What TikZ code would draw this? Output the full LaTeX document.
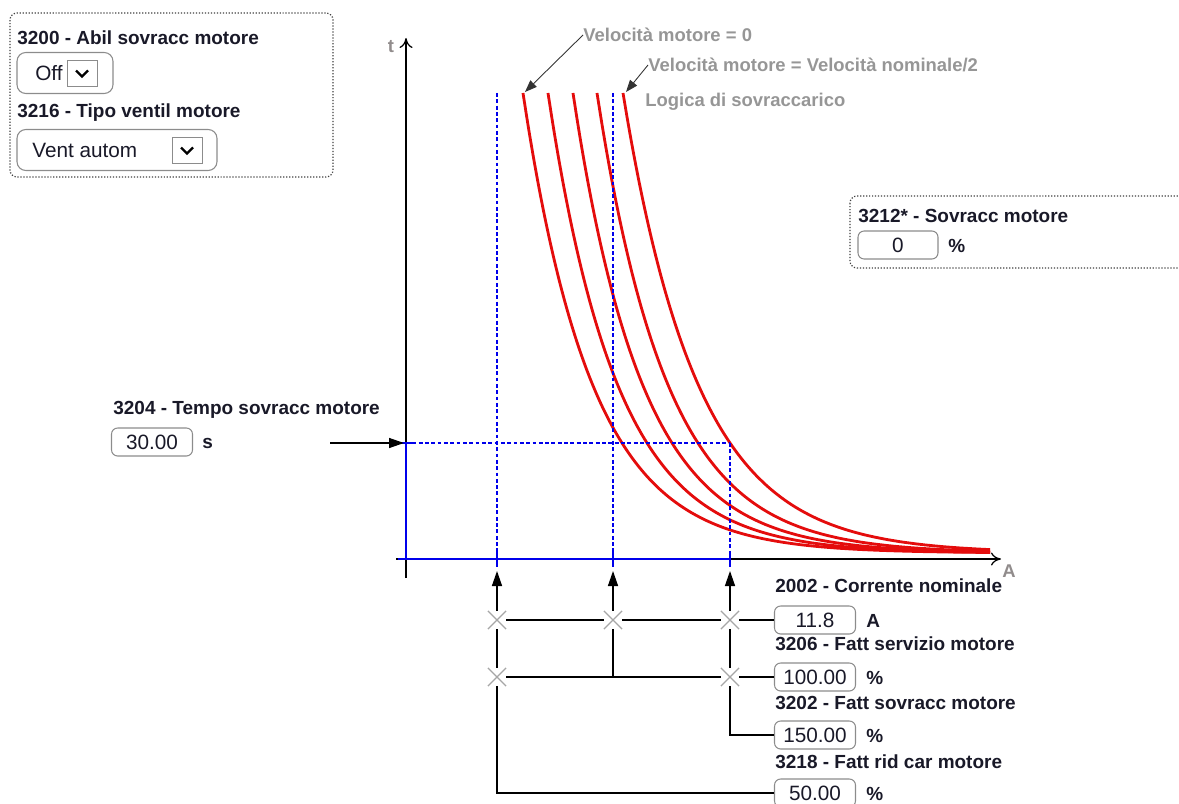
\documentclass[tikz,border=0pt]{standalone}
\usepackage{fontspec}
\setmainfont{Liberation Sans}
\usepackage{tikz}
\usetikzlibrary{arrows.meta, shapes.misc}
\definecolor{labelgray}{RGB}{150,150,150}
\definecolor{axisgray}{RGB}{145,140,140}
\definecolor{guideblue}{RGB}{0,0,235}
\definecolor{curvered}{RGB}{228,12,12}
\definecolor{boxgray}{RGB}{140,140,140}
\definecolor{inktext}{RGB}{25,25,40}

\begin{document}
\begin{tikzpicture}[
    x=0.02cm, y=-0.02cm,
    every node/.style={font=\fontsize{10.8}{13}\selectfont},
    lbl/.style={anchor=west, inner sep=0pt, font=\bfseries\fontsize{10.8}{13}\selectfont, text=inktext},
    unit/.style={anchor=west, inner sep=0pt, font=\bfseries\fontsize{10.8}{13}\selectfont, text=inktext},
    valbox/.style={draw=boxgray, rounded corners=3.5pt, line width=0.6pt, minimum width=1.62cm, minimum height=0.56cm, inner sep=0pt, font=\fontsize{11.8}{13}\selectfont, text=inktext},
    selbox/.style={draw=boxgray, rounded corners=5pt, line width=0.6pt, minimum height=0.82cm, inner sep=0pt},
    ddbox/.style={draw=boxgray, line width=0.5pt, minimum width=0.6cm, minimum height=0.52cm, inner sep=0pt},
    chevron/.style={black, line width=1.3pt},
    grouping/.style={draw=black!75, densely dotted, rounded corners=4pt, line width=0.7pt},
    note/.style={anchor=west, inner sep=0pt, font=\bfseries\fontsize{10.5}{13}\selectfont, text=labelgray},
    curve/.style={curvered, line width=1.6pt},
    guide/.style={guideblue, dash pattern=on 2.2pt off 1.4pt, line width=1.1pt},
    baseline/.style={guideblue, line width=1.1pt},
    axis/.style={black, line width=0.7pt, -{To[length=2mm,width=2.6mm]}},
    xmark/.style={cross out, draw=gray!70, minimum size=0.34cm, inner sep=0pt, line width=0.7pt},
    feed/.style={black, line width=0.8pt},
    push/.style={feed, -{Triangle[length=3mm,width=2mm]}},
    pointer/.style={black!80, line width=0.5pt, -{Triangle[length=2.4mm,width=1.8mm]}}
]
\useasboundingbox (0,0) rectangle (1179,804);

% Settings top left
\draw[grouping] (10,13) rectangle (333,177);
\node[lbl] (t3200) at (17,38) {3200 - Abil sovracc motore};
\node[selbox, minimum width=1.92cm] (offbox) at (65,73) {};
\node[anchor=west, inner sep=0pt, font=\fontsize{11.8}{13}\selectfont, text=inktext] (offtxt) at (35,73) {Off};
\node[ddbox] (dd1) at (82,73) {};
\draw[chevron] ([xshift=-0.12cm,yshift=0.05cm]dd1.center) -- ([yshift=-0.07cm]dd1.center) -- ([xshift=0.12cm,yshift=0.05cm]dd1.center);
\node[lbl] (t3216) at (17,113) {3216 - Tipo ventil motore};
\node[selbox, minimum width=4cm] (ventbox) at (117,150) {};
\node[anchor=west, inner sep=0pt, font=\fontsize{11.8}{13}\selectfont, text=inktext] (venttxt) at (32,150) {Vent autom};
\node[ddbox] (dd2) at (187,150) {};
\draw[chevron] ([xshift=-0.12cm,yshift=0.05cm]dd2.center) -- ([yshift=-0.07cm]dd2.center) -- ([xshift=0.12cm,yshift=0.05cm]dd2.center);

% Overload readout
\draw[grouping] (850,196) rectangle (1195,268);
\node[lbl] (t3212) at (858,216) {3212* - Sovracc motore};
\node[valbox, minimum width=1.6cm] (v0) at (898,245) {0};
\node[unit] (u0) at (948,246) {\%};

% Overload time
\node[lbl] (t3204) at (113,410) {3204 - Tempo sovracc motore};
\node[valbox] (v30) at (152,442) {30.00};
\node[unit] (u30) at (202,443) {s};

% Axes
\coordinate (tbot) at (406,578);
\coordinate (ttop) at (406,38);
\coordinate (xbeg) at (396,559);
\coordinate (xend) at (1001,559);
\draw[axis] (tbot) -- (ttop);
\draw[axis] (xbeg) -- (xend);
\node[text=axisgray, font=\bfseries\fontsize{10.5}{13}\selectfont] (tlab) at (391,47) {t};
\node[text=axisgray, font=\bfseries\fontsize{10.5}{13}\selectfont] (alab) at (1009,571) {A};

% Tripping curves
\foreach \xs/\kk in {523/0.01445, 548/0.01445, 573/0.01445, 597/0.01417, 623/0.01337}
  \draw[curve] plot[domain=\xs:990, samples=90, smooth] (\x, {553 - 460*exp(-\kk*(\x-\xs))});

% Guides
\coordinate (o1) at (406,443);
\coordinate (g1) at (497,93);
\coordinate (g2) at (613,93);
\coordinate (g3) at (730,443);
\coordinate (a1) at (497,571);
\coordinate (a2) at (613,571);
\coordinate (a3) at (730,571);
\draw[guide] (g1) -- (497,559);
\draw[guide] (g2) -- (613,559);
\draw[guide] (g3) -- (730,559);
\draw[guide] (o1) -- (g3);
\draw[baseline] (o1) -- (406,559);
\draw[baseline] (398,559) -- (730,559);
\draw[baseline] (398,443) -- (414,443);
\foreach \gx in {497,613,730}
  \draw[baseline] (\gx,551) -- (\gx,567);
\coordinate (tin) at (330,443);
\draw[push] (tin) -- (404,443);

% Notes
\node[note] (n1) at (583,35) {Velocità motore = 0};
\node[note] (n2) at (648,65) {Velocità motore = Velocità nominale/2};
\node[note] (n3) at (645,102) {Logica di sovraccarico};
\coordinate (r1) at (525,92);
\coordinate (r5) at (626,92);
\draw[pointer] (n1.west) -- (r1);
\draw[pointer] (n2.west) -- (r5);

% Current settings
\node[lbl] (t2002) at (775,586) {2002 - Corrente nominale};
\node[valbox] (v118) at (815,620) {11.8};
\node[unit] (u118) at (866,621) {A};
\node[lbl] (t3206) at (775,644) {3206 - Fatt servizio motore};
\node[valbox] (v100) at (815,677) {100.00};
\node[unit] (u100) at (866,678) {\%};
\node[lbl] (t3202) at (775,703) {3202 - Fatt sovracc motore};
\node[valbox] (v150) at (815,735) {150.00};
\node[unit] (u150) at (866,736) {\%};
\node[lbl] (t3218) at (775,762) {3218 - Fatt rid car motore};
\node[valbox] (v50) at (815,793) {50.00};
\node[unit] (u50) at (866,794) {\%};

% Multipliers
\node[xmark] (c11) at (497,620) {};
\node[xmark] (c12) at (613,620) {};
\node[xmark] (c13) at (730,620) {};
\node[xmark] (c21) at (497,677) {};
\node[xmark] (c23) at (730,677) {};
\coordinate (j22) at (613,677);
\draw[push] (c11) -- (a1);
\draw[push] (c12) -- (a2);
\draw[push] (c13) -- (a3);
\draw[feed] (c11) -- (c12);
\draw[feed] (c12) -- (c13);
\draw[feed] (c13) -- (v118);
\draw[feed] (c21) -- (c23);
\draw[feed] (c23) -- (v100);
\draw[feed] (c12) -- (j22);
\draw[feed] (c11) -- (c21);
\draw[feed] (c13) -- (c23);
\draw[feed] (c23) |- (v150);
\draw[feed] (c21) |- (v50);
\end{tikzpicture}
\end{document}
